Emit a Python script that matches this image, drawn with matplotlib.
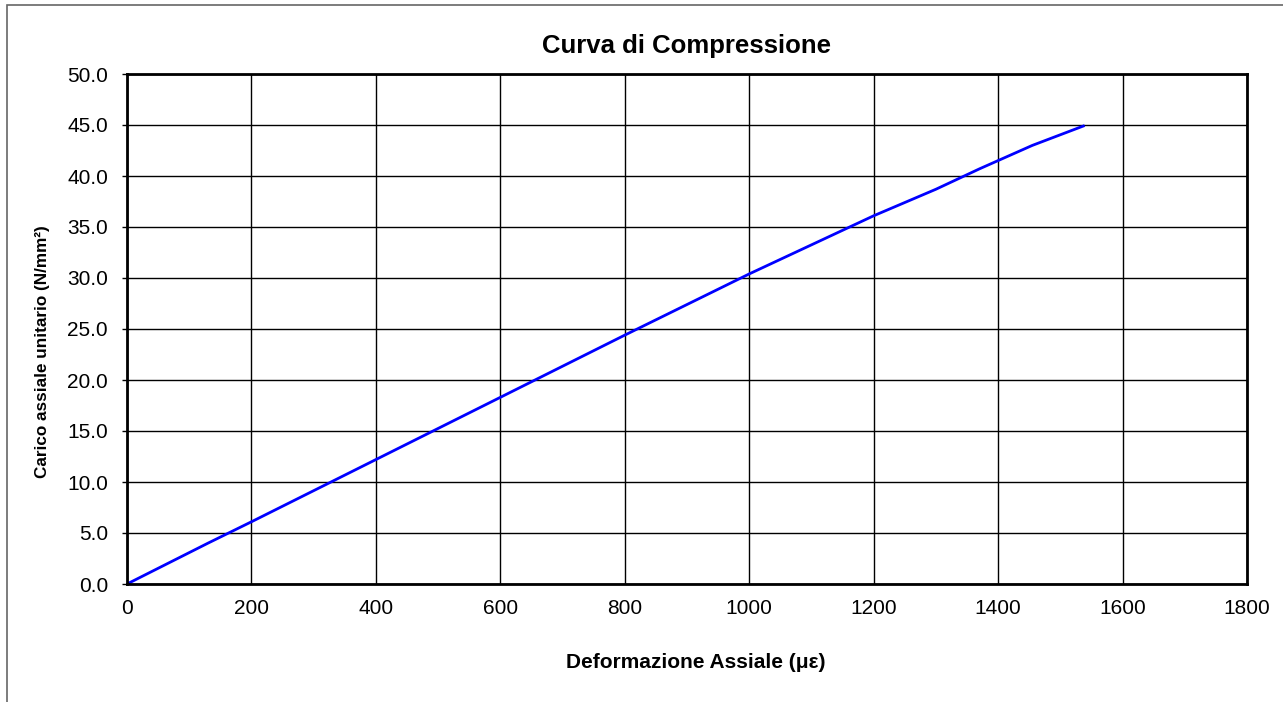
import matplotlib
matplotlib.use("Agg")
import matplotlib.pyplot as plt
from matplotlib.patches import Rectangle

# strain (micro-strain) vs axial stress (N/mm2)
deformazione = [0, 130, 200, 400, 600, 800, 1000, 1200, 1300, 1370, 1455, 1537]
carico = [0.0, 4.0, 6.1, 12.2, 18.3, 24.4, 30.4, 36.1, 38.7, 40.7, 43.0, 44.9]

x_ticks = [0, 200, 400, 600, 800, 1000, 1200, 1400, 1600, 1800]
y_ticks = [0, 5, 10, 15, 20, 25, 30, 35, 40, 45, 50]

plt.rcParams['font.family'] = ['Liberation Sans', 'DejaVu Sans']

W, H = 1283, 702
fig = plt.figure(figsize=(W / 100, H / 100), dpi=100)

# chart area border (partly cut off at right / bottom)
fig.add_artist(Rectangle((7 / W, -0.1), 1.2, 1 - 5 / H + 0.1, transform=fig.transFigure,
                         fill=False, edgecolor='#666666', linewidth=1.2))

ax = fig.add_axes([127 / W, 1 - 584 / H, (1247 - 127) / W, (584 - 74) / H])
ax.plot(deformazione, carico, color='#0000ff', linewidth=2)

ax.set_xlim(0, 1800)
ax.set_ylim(0, 50)
ax.set_xticks(x_ticks)
ax.set_yticks(y_ticks)
ax.set_yticklabels(['%.1f' % v for v in y_ticks])
ax.grid(True, color='black', linewidth=1)
ax.set_axisbelow(True)
for s in ax.spines.values():
    s.set_linewidth(2)
ax.tick_params(axis='y', length=3.6, width=1, pad=10, labelsize=15)
ax.tick_params(axis='x', length=0, pad=10.5, labelsize=15)

ax.set_title('Curva di Compressione', fontsize=18.5, fontweight='bold', pad=15)
ax.set_xlabel('Deformazione Assiale (\u03bc\u03b5)', fontsize=15, fontweight='bold')
ax.set_ylabel('Carico assiale unitario (N/mm\u00b2)', fontsize=12.3, fontweight='bold')
ax.xaxis.set_label_coords(0.508, -0.135)
ax.yaxis.set_label_coords(-0.0688, 0.455)

fig.savefig('out.png', dpi=100)
